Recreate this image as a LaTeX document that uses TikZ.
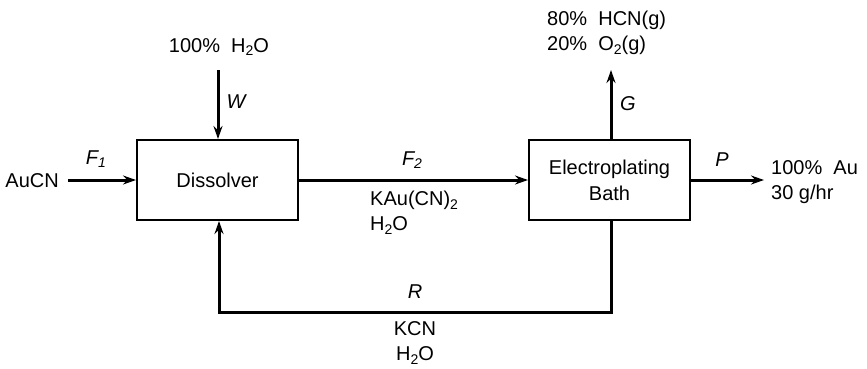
\documentclass[tikz,border=0pt]{standalone}
\usepackage{fontspec}
\setmainfont{Liberation Sans}
\usetikzlibrary{arrows.meta}
\newcommand{\sbs}[1]{\raisebox{-0.35ex}{\fontsize{14}{14}\selectfont #1}}
\begin{document}
\begin{tikzpicture}[x=1pt,y=-1pt,
  every node/.style={font=\fontsize{20}{25}\selectfont, inner sep=0pt},
  unit/.style={draw, line width=2pt, minimum width=161pt, minimum height=80pt, align=center},
  stream/.style={line width=3pt, -{Stealth[length=13pt,width=9pt]}},
  lbl/.style={font=\fontsize{20}{25}\selectfont\itshape},
  txt/.style={align=left, anchor=west}]
\useasboundingbox (0,0) rectangle (867,368);
\node[unit] (dis) at (217.5,180) {Dissolver};
\node[unit] (ele) at (609.5,180) {Electroplating\\[1pt]Bath};
\node[anchor=east] (aucn) at (59,181) {AuCN};
\node (h2o) at (219,47) {100\%\ \ H\sbs{2}O};
\node[txt] (gas) at (547,33) {80\%\ \ HCN(g)\\20\%\ \ O\sbs{2}(g)};
\node[txt] (au) at (771,182) {100\%\ \ Au\\30 g/hr};
\coordinate (aucnend) at (68,180);
\coordinate (wtop) at (218,70);
\coordinate (gtop) at (611,70);
\coordinate (pend) at (764,180);
\coordinate (rcorner1) at (611,312);
\coordinate (rcorner2) at (219,312);
\draw[stream] (aucnend) -- (dis.west);
\draw[stream] (wtop) -- (dis.north -| wtop);
\draw[stream] (ele.north -| gtop) -- (gtop);
\draw[stream] (ele.east) -- (pend);
\draw[stream] (dis.east) -- (ele.west);
\draw[stream] (ele.south -| rcorner1) -- (rcorner1) -- (rcorner2) -- (dis.south -| rcorner2);
\node[lbl] (f1) at (96,159) {F\sbs{1}};
\node[lbl] (w) at (236,102) {W};
\node[lbl] (g) at (628,104) {G};
\node[lbl] (p) at (722,160) {P};
\node[lbl] (f2) at (412,160) {F\sbs{2}};
\node[lbl] (r) at (415,292) {R};
\node[txt] (kau) at (370,213) {KAu(CN)\sbs{2}\\H\sbs{2}O};
\node[align=center] (kcn) at (415,343) {KCN\\H\sbs{2}O};
\end{tikzpicture}
\end{document}
